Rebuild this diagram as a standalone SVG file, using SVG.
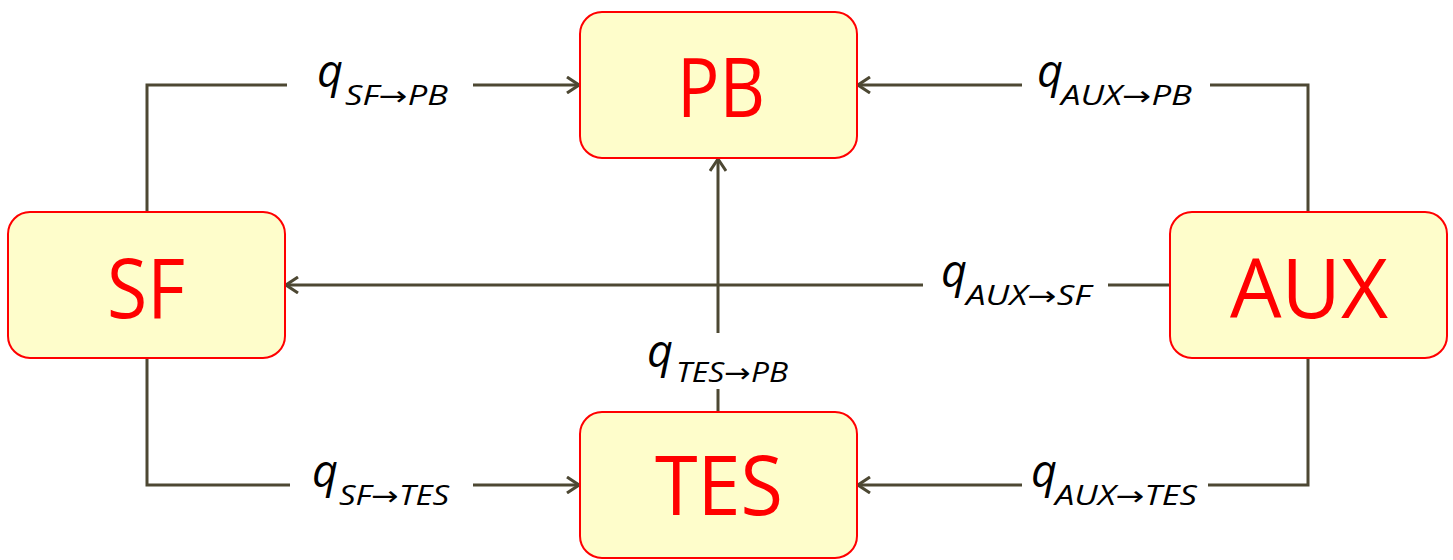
<svg xmlns="http://www.w3.org/2000/svg" width="1453" height="560" viewBox="0 0 1453 560">
<style>
.box{fill:#fefdcb;stroke:#ff0000;stroke-width:2}
.nt{font-family:"Open Sans","Noto Sans","DejaVu Sans",sans-serif;font-size:82px;fill:#ff0000;text-anchor:middle}
.ln{fill:none;stroke:#4d4833;stroke-width:3}
.q{font-family:"Open Sans","Noto Sans","DejaVu Sans",sans-serif;font-style:italic;font-size:45px;fill:#000}
.s{font-family:"Open Sans","Noto Sans","DejaVu Sans",sans-serif;font-style:italic;font-size:27px;fill:#000}
</style>
<defs>
<marker id="ah" viewBox="0 0 14 18" refX="13" refY="9" markerWidth="14" markerHeight="18" markerUnits="userSpaceOnUse" orient="auto">
<path d="M1,1 L13,9 L1,17" fill="none" stroke="#4d4833" stroke-width="3"/>
</marker>
</defs>
<g id="connectors">
<path class="ln" d="M147,212 V85 H287"/>
<path class="ln" d="M473,85 H579" marker-end="url(#ah)"/>
<path class="ln" d="M1308,212 V85 H1210"/>
<path class="ln" d="M1022,85 H858" marker-end="url(#ah)"/>
<path class="ln" d="M1170,285 H1108"/>
<path class="ln" d="M923,285 H286" marker-end="url(#ah)"/>
<path class="ln" d="M718,412 V389"/>
<path class="ln" d="M718,333 V159" marker-end="url(#ah)"/>
<path class="ln" d="M147,358 V485 H290"/>
<path class="ln" d="M473,485 H579" marker-end="url(#ah)"/>
<path class="ln" d="M1308,358 V485 H1208"/>
<path class="ln" d="M1022,485 H858" marker-end="url(#ah)"/>
</g>
<g id="labels">
<text class="q" x="317" y="87">q</text><text class="s" x="345" y="105" textLength="103" lengthAdjust="spacingAndGlyphs">SF→PB</text>
<text class="q" x="1037" y="87">q</text><text class="s" x="1061" y="105" textLength="131" lengthAdjust="spacingAndGlyphs">AUX→PB</text>
<text class="q" x="941" y="287">q</text><text class="s" x="966" y="305" textLength="125" lengthAdjust="spacingAndGlyphs">AUX→SF</text>
<text class="q" x="647" y="367">q</text><text class="s" x="676" y="382" textLength="112" lengthAdjust="spacingAndGlyphs">TES→PB</text>
<text class="q" x="312" y="487">q</text><text class="s" x="339" y="505" textLength="110" lengthAdjust="spacingAndGlyphs">SF→TES</text>
<text class="q" x="1031" y="487">q</text><text class="s" x="1055" y="505" textLength="142" lengthAdjust="spacingAndGlyphs">AUX→TES</text>
</g>
<g id="PB"><rect class="box" x="580" y="12" width="277" height="146" rx="22"/><text class="nt" x="721" y="117" textLength="88" lengthAdjust="spacingAndGlyphs">PB</text></g>
<g id="SF"><rect class="box" x="8" y="212" width="277" height="146" rx="22"/><text class="nt" x="146" y="318" textLength="78" lengthAdjust="spacingAndGlyphs">SF</text></g>
<g id="AUX"><rect class="box" x="1170" y="212" width="277" height="146" rx="22"/><text class="nt" x="1309" y="318" textLength="158" lengthAdjust="spacingAndGlyphs">AUX</text></g>
<g id="TES"><rect class="box" x="580" y="412" width="277" height="146" rx="22"/><text class="nt" x="719" y="515" textLength="128" lengthAdjust="spacingAndGlyphs">TES</text></g>
</svg>
